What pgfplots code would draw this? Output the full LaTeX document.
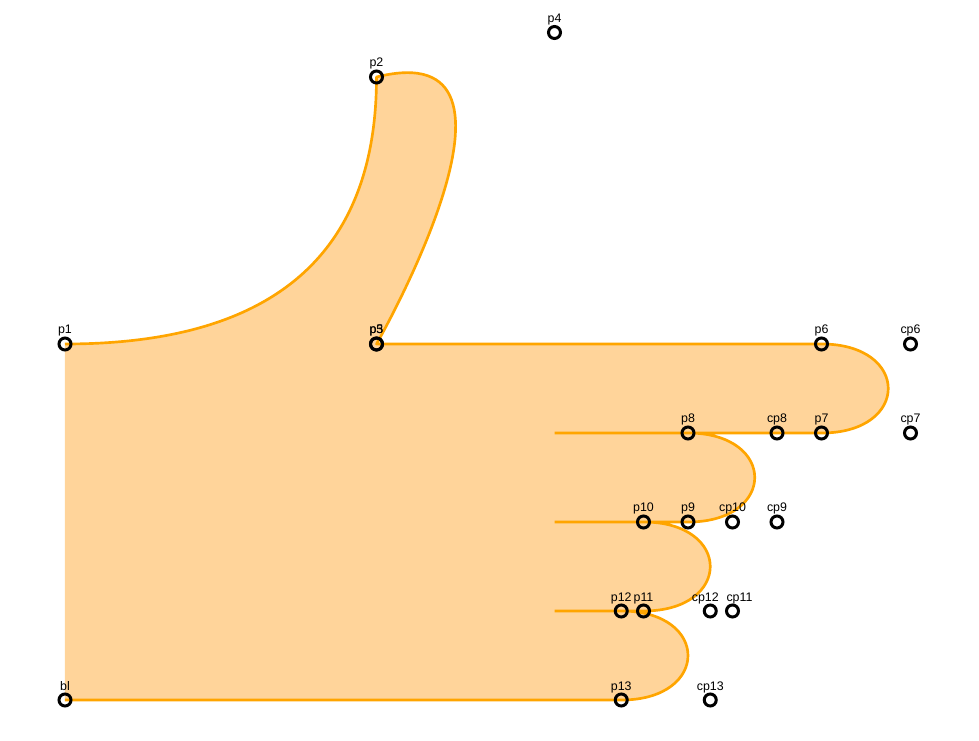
\documentclass[border=0pt]{standalone}
\usepackage{pgfplots}
\pgfplotsset{compat=1.18}
\usepackage{pgfplotstable}
\usepackage{fontspec}
\setmainfont{Liberation Sans}
\definecolor{hstroke}{HTML}{FFA500}
\definecolor{hfill}{HTML}{FFD49A}

\pgfplotstableread{
x y label dx
0 16 p1 0
14 28 p2 0
14 16 p3 0
22 30 p4 0
14 16 p5 0
34 16 p6 0
38 16 cp6 0
34 12 p7 0
38 12 cp7 0
28 12 p8 0
32 12 cp8 0
28 8 p9 0
32 8 cp9 0
26 8 p10 0
30 8 cp10 0
26 4 p11 0
30 4 cp11 5.25
25 4 p12 0
29 4 cp12 -3.75
25 0 p13 0
29 0 cp13 0
0 0 bl 0
}\points

\begin{document}
\begin{tikzpicture}
\begin{axis}[
  hide axis,
  scale only axis,
  width=734.25pt, height=555pt,
  xmin=-2.9213, xmax=41.0787,
  ymin=-1.7978, ymax=31.4607,
  clip=false,
]
\path (rel axis cs:0,0) rectangle (rel axis cs:1,1);
% filled hand
\fill[hfill]
  (0,16) .. controls (9.3333,16) and (14,20) .. (14,28)
  .. controls (22,30) and (14,16) .. (14,16)
  -- (34,16)
  .. controls (38,16) and (38,12) .. (34,12)
  -- (28,12)
  .. controls (32,12) and (32,8) .. (28,8)
  -- (26,8)
  .. controls (30,8) and (30,4) .. (26,4)
  -- (25,4)
  .. controls (29,4) and (29,0) .. (25,0)
  -- (0,0) -- cycle;
% outline
\draw[hstroke, line width=2pt, line cap=butt, line join=round]
  (0,16) .. controls (9.3333,16) and (14,20) .. (14,28)
  .. controls (22,30) and (14,16) .. (14,16)
  -- (34,16)
  .. controls (38,16) and (38,12) .. (34,12)
  -- (22,12)
  (28,12) .. controls (32,12) and (32,8) .. (28,8)
  -- (22,8)
  (26,8) .. controls (30,8) and (30,4) .. (26,4)
  -- (22,4)
  (25,4) .. controls (29,4) and (29,0) .. (25,0)
  -- (0,0);
% control points
\addplot[only marks, mark=o, mark size=4.5pt, black,
  mark options={line width=2.25pt},
  point meta=explicit symbolic,
  visualization depends on={\thisrow{dx}\as\labdx},
  nodes near coords,
  every node near coord/.append style={font=\fontsize{9.3}{10}\selectfont, anchor=base, yshift=7.5pt, xshift=\labdx pt, inner sep=0pt, text=black}]
  table[x=x, y=y, meta=label] {\points};
\end{axis}
\end{tikzpicture}
\end{document}
